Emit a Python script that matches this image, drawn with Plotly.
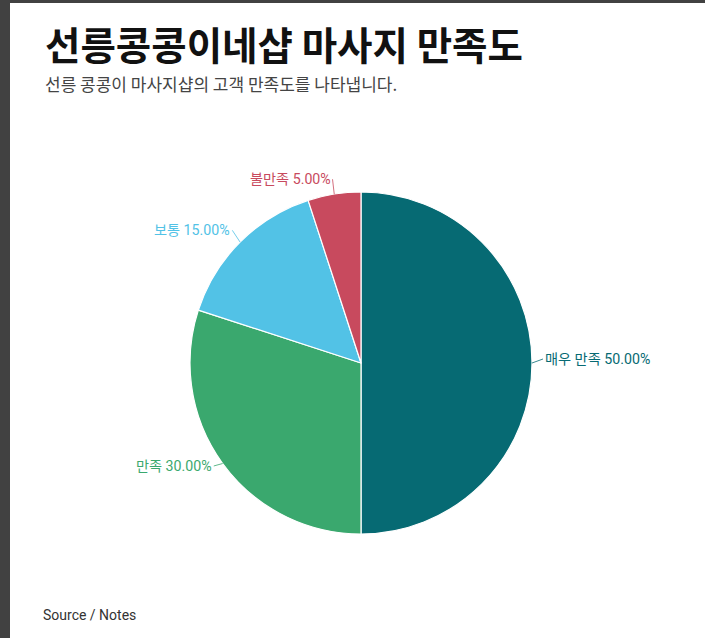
import math
import plotly.graph_objects as go

# data
labels = ["매우 만족", "만족", "보통", "불만족"]
values = [50, 30, 15, 5]
colors = ["#066A73", "#3AA86E", "#52C2E6", "#C84A5E"]

title = "선릉콩콩이네샵 마사지 만족도"
subtitle = "선릉 콩콩이 마사지샵의 고객 만족도를 나타냅니다."
source = "Source / Notes"

W, H = 705, 638
cx, cy, r = 361, 363, 171  # pie center / radius in px

fig = go.Figure()
fig.add_trace(go.Pie(
    labels=labels, values=values, sort=False, direction="clockwise", rotation=0,
    marker=dict(colors=colors, line=dict(color="white", width=1.2)),
    textinfo="none", hoverinfo="label+percent", showlegend=False,
    domain=dict(x=[(cx - r) / W, (cx + r) / W],
                y=[(H - cy - r) / H, (H - cy + r) / H]),
))

# outside labels with short leader lines
total = sum(values)
cum = 0
annos = []
for lab, v, col in zip(labels, values, colors):
    mid = (cum + v / 2) / total * 2 * math.pi
    cum += v
    px = cx + r * math.sin(mid)
    py = cy - r * math.cos(mid)
    dx = 11 * math.sin(mid)
    dy = -11 * math.cos(mid) - 4
    pct = v / total * 100
    annos.append(dict(
        x=px / W, y=1 - py / H, xref="paper", yref="paper",
        text=f"{lab} {pct:.2f}%", showarrow=True, arrowhead=0, arrowwidth=0.8,
        arrowcolor=col, ax=dx, ay=dy, axref="pixel", ayref="pixel",
        xanchor="left" if math.sin(mid) > 0.01 else "right", yanchor="middle",
        font=dict(family="Roboto, Noto Sans CJK KR", size=14.2, color=col),
    ))

annos.append(dict(x=43 / W, y=1 - 43 / H, xref="paper", yref="paper", text=f"<b>{title}</b>",
                  showarrow=False, xanchor="left", yanchor="middle",
                  font=dict(family="Noto Sans CJK KR", size=38.5, color="#111111")))
annos.append(dict(x=43 / W, y=1 - 83 / H, xref="paper", yref="paper", text=subtitle,
                  showarrow=False, xanchor="left", yanchor="middle",
                  font=dict(family="Noto Sans CJK KR", size=17, color="#444444")))
annos.append(dict(x=41 / W, y=1 - 615 / H, xref="paper", yref="paper", text=source,
                  showarrow=False, xanchor="left", yanchor="middle",
                  font=dict(family="Roboto", size=14, color="#333333")))

fig.update_layout(
    width=W, height=H, margin=dict(l=0, r=0, t=0, b=0),
    paper_bgcolor="white", annotations=annos,
    shapes=[
        dict(type="rect", xref="paper", yref="paper", x0=0, x1=10 / W, y0=0, y1=1,
             fillcolor="#414141", line_width=0),
        dict(type="rect", xref="paper", yref="paper", x0=0, x1=1, y0=1 - 3 / H, y1=1,
             fillcolor="#414141", line_width=0),
    ],
)

# page has no body margin, so the figure fills the window
fig.write_html("out.html", config=dict(displayModeBar=False),
               post_script="document.body.style.margin='0';document.body.style.overflow='hidden';")
